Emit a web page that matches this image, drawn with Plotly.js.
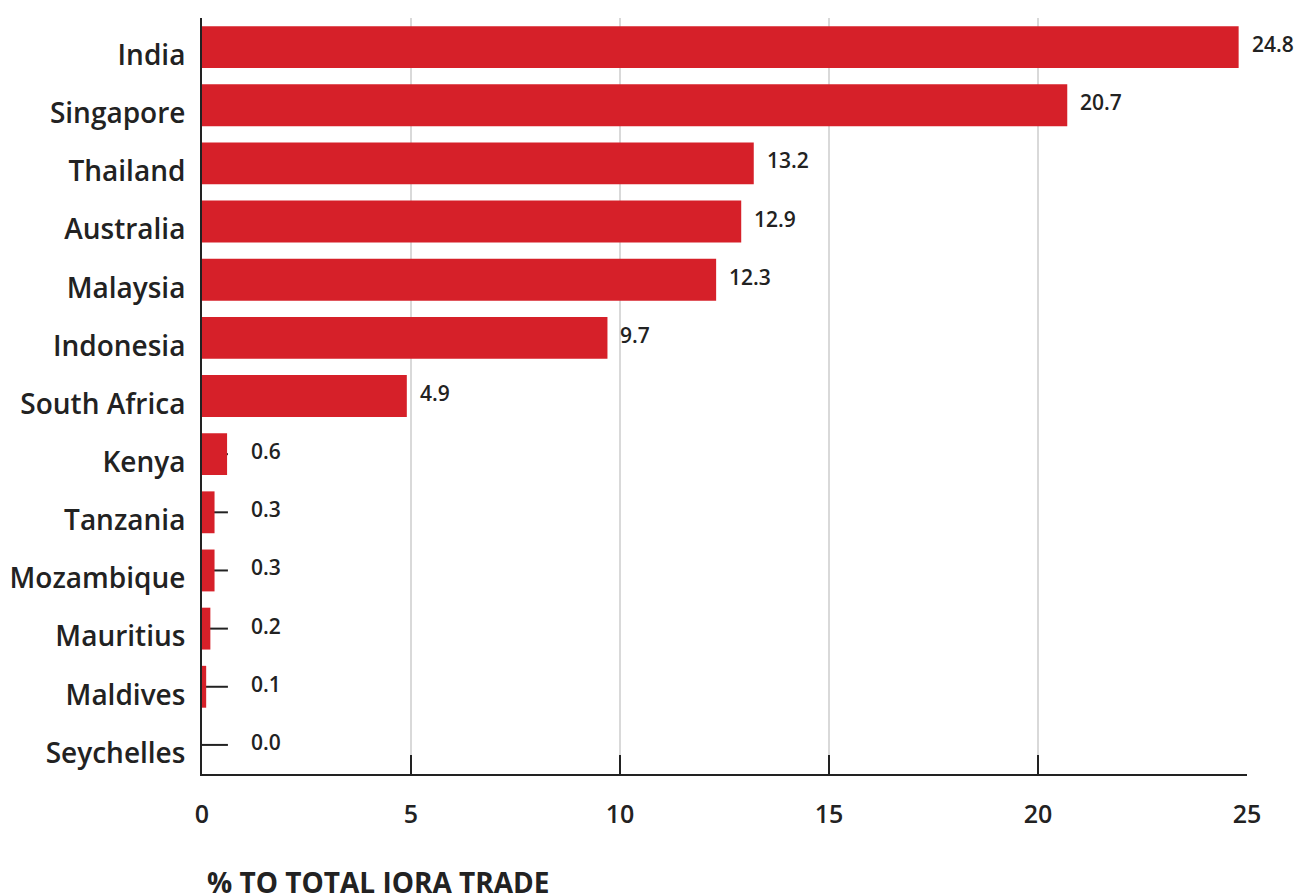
<!DOCTYPE html>
<html><head><meta charset="utf-8">
<script src="https://cdn.plot.ly/plotly-3.0.1.min.js"></script>
<style>html,body{margin:0;padding:0;background:#fff;}#chart{width:1296px;height:895px;}</style>
</head><body><div id="chart"></div>
<script>
const countries = ["India","Singapore","Thailand","Australia","Malaysia","Indonesia","South Africa","Kenya","Tanzania","Mozambique","Mauritius","Maldives","Seychelles"];
const shares = [24.8,20.7,13.2,12.9,12.3,9.7,4.9,0.6,0.3,0.3,0.2,0.1,0.0];
const tickVals = [0,5,10,15,20,25];
const tickText = ["0","5","10","15","20","25"];
const axisTitle = "% TO TOTAL IORA TRADE";

const red = "#d62029";
const ink = "#222222";
const font = "Open Sans, Noto Sans, sans-serif";
const leaderEnd = 0.62;

const shapes = countries.map(c => ({
  type:"line", layer:"below", xref:"x", yref:"y",
  x0:0, x1:leaderEnd, y0:c, y1:c,
  line:{color:ink, width:2}
}));

const annotations = countries.map((c,i) => {
  const v = shares[i];
  const small = v < 1;
  return {
    x: small ? leaderEnd : v, y:c, xref:"x", yref:"y",
    text: v.toFixed(1), showarrow:false, xanchor:"left",
    xshift: small ? 21 : 11, yshift: 3,
    font:{family:font, size:21, color:ink, weight:600}
  };
});
annotations.push({
  xref:"paper", yref:"paper", x:0, y:-(882-774)/756, xanchor:"left", yanchor:"middle",
  xshift:3, showarrow:false, text:axisTitle,
  font:{family:font, size:28, color:ink, weight:700}
});

const trace = {
  type:"bar", orientation:"h", x:shares, y:countries,
  marker:{color:red}, hoverinfo:"skip"
};

const layout = {
  width:1296, height:895,
  margin:{l:202, r:49, t:18, b:121},
  paper_bgcolor:"#fff", plot_bgcolor:"#fff",
  bargap:0.28,
  showlegend:false,
  xaxis:{
    range:[0,25], tickvals:tickVals, ticktext:tickText,
    showgrid:true, gridcolor:"#d9d9d9", gridwidth:1.5,
    zeroline:false, showline:true, linecolor:ink, linewidth:2,
    ticks:"inside", ticklen:19, tickwidth:2, tickcolor:ink,
    tickfont:{family:font, size:25, color:ink, weight:600},
    ticklabelstandoff:17, fixedrange:true
  },
  yaxis:{
    categoryorder:"array", categoryarray:countries.slice().reverse(),
    autorange:false, range:[-0.5, countries.length-0.5],
    showgrid:false, zeroline:false, showline:true, linecolor:ink, linewidth:2,
    ticks:"", ticklabelstandoff:9, ticklabelshift:8,
    tickfont:{family:font, size:28, color:ink, weight:600}, fixedrange:true
  },
  shapes:shapes, annotations:annotations
};

Plotly.newPlot("chart",[trace],layout,{displayModeBar:false, staticPlot:true});
</script></body></html>
